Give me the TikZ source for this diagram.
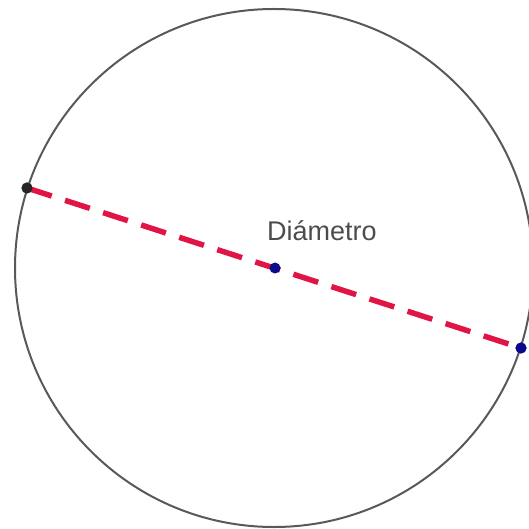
\documentclass[tikz,border=0pt]{standalone}
\usepackage{fontspec}
\setmainfont{Liberation Sans}
\begin{document}
\begin{tikzpicture}[x=1pt,y=-1pt,
  circ/.style={draw=black!65,line width=2pt},
  diam/.style={draw={rgb,255:red,225;green,20;blue,70},line width=5.5pt,dash pattern=on 26pt off 14pt},
  pt/.style={circle,inner sep=0pt,minimum size=11pt},
  lbl/.style={text=black!70,font=\fontsize{27}{27}\selectfont,inner sep=0pt}]
\useasboundingbox (0,0) rectangle (528,529);
\coordinate (O) at (274,268);
\draw[circ] (O) circle (259);
\node[pt,fill=black!85] (A) at (27,188) {};
\node[pt,fill={rgb,255:red,10;green,10;blue,140}] (B) at (521,348) {};
\draw[diam] (A.center) -- (B.center);
\node[pt,fill=black!85] at (27,188) {};
\node[pt,fill={rgb,255:red,10;green,10;blue,140}] (C) at (275,268) {};
\node[pt,fill={rgb,255:red,10;green,10;blue,140}] at (521,348) {};
\node[lbl] (L) at (322,231) {Diámetro};
\end{tikzpicture}
\end{document}
